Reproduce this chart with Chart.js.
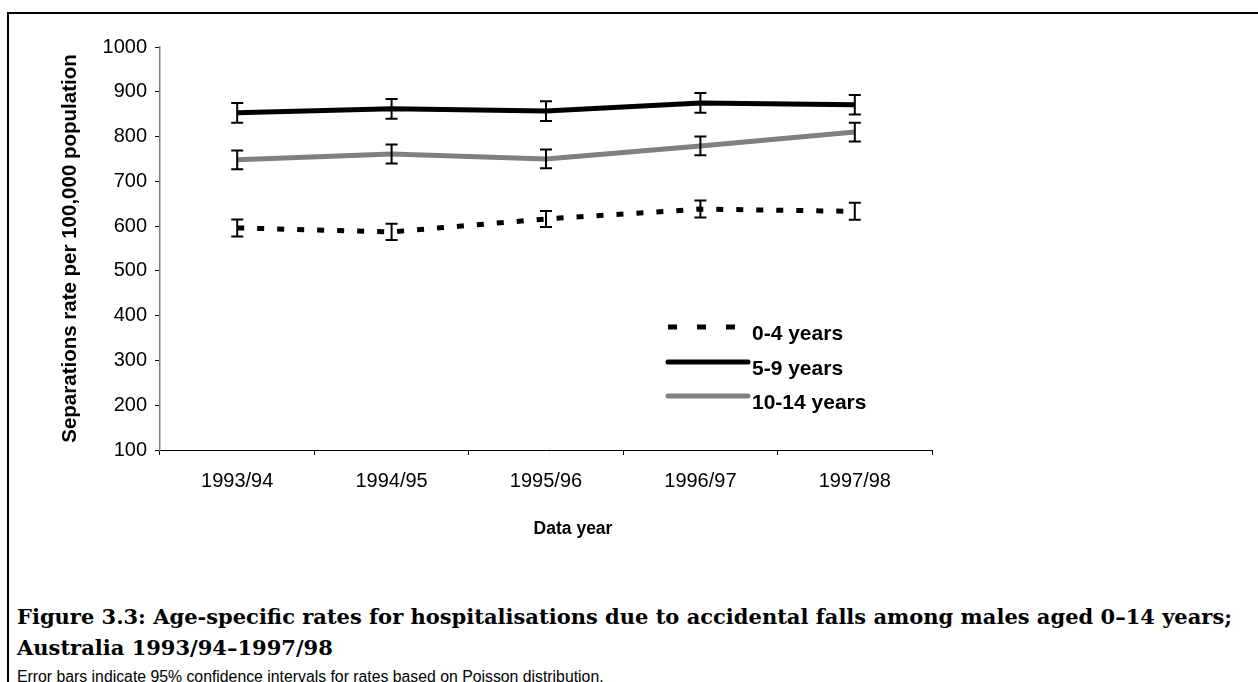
<!DOCTYPE html>
<html>
<head>
<meta charset="utf-8">
<script src="https://cdn.jsdelivr.net/npm/chart.js@4/dist/chart.umd.min.js"></script>
<style>
  html, body { margin: 0; padding: 0; background: #fff; overflow: hidden; }
  #page { position: relative; width: 1258px; height: 682px; }
  #frame { position: absolute; left: 7px; top: 12px; right: -4px; bottom: -4px; border-top: 2px solid #000; border-left: 2px solid #000; }
  #wrap { position: absolute; left: 0; top: 0; width: 1258px; height: 560px; }
  #caption { position: absolute; left: 17px; top: 601px; font-family: "DejaVu Serif", serif; font-weight: bold; font-size: 21px; line-height: 31px; color: #000; white-space: nowrap; }
  #note { position: absolute; left: 17px; top: 668px; font-family: "Liberation Sans", Arial, sans-serif; font-size: 15.8px; color: #000; white-space: nowrap; }
</style>
</head>
<body>
<div id="page">
  <div id="frame"></div>
  <div id="wrap"><canvas id="chart" width="1258" height="560"></canvas></div>
  <div id="caption">Figure 3.3: Age-specific rates for hospitalisations due to accidental falls among males aged 0–14 years;<br>Australia 1993/94–1997/98</div>
  <div id="note">Error bars indicate 95% confidence intervals for rates based on Poisson distribution.</div>
</div>
<script>
const years = ['1993/94', '1994/95', '1995/96', '1996/97', '1997/98'];
const seriesNames = ['0-4 years', '5-9 years', '10-14 years'];

const rates0to4 = [596, 587, 616, 638, 633];
const rates5to9 = [853, 862, 857, 875, 871];
const rates10to14 = [748, 761, 750, 779, 810];

// half-width of the 95% CI
const err0to4 = [19, 18, 18, 19, 19];
const err5to9 = [22, 22, 22, 22, 22];
const err10to14 = [21, 21, 21, 21, 21];

const yTicks = [100, 200, 300, 400, 500, 600, 700, 800, 900, 1000];
const xTitle = 'Data year';

const font = 'Liberation Sans, Arial, sans-serif';

// error bars drawn on top of the lines
const errorBars = {
    id: 'errorBars',
    afterDatasetsDraw(chart) {
        const ctx = chart.ctx;
        const y = chart.scales.y;
        ctx.save();
        ctx.strokeStyle = '#000';
        ctx.lineWidth = 2;
        chart.data.datasets.forEach((ds, i) => {
            const meta = chart.getDatasetMeta(i);
            meta.data.forEach((pt, j) => {
                const top = y.getPixelForValue(ds.data[j] + ds.err[j]);
                const bot = y.getPixelForValue(ds.data[j] - ds.err[j]);
                const x = pt.x;
                ctx.beginPath();
                ctx.moveTo(x, top); ctx.lineTo(x, bot);
                ctx.moveTo(x - 6, top); ctx.lineTo(x + 6, top);
                ctx.moveTo(x - 6, bot); ctx.lineTo(x + 6, bot);
                ctx.stroke();
            });
        });
        ctx.restore();
    }
};

// legend inside the plot + the x title, which sits a bit right of centre
const innerLegend = {
    id: 'innerLegend',
    afterDraw(chart) {
        const ctx = chart.ctx;
        const area = chart.chartArea;
        const x0 = area.left + 508;
        const rows = [327, 362, 396];
        ctx.save();
        chart.data.datasets.forEach((ds, i) => {
            ctx.beginPath();
            ctx.strokeStyle = ds.borderColor;
            ctx.lineWidth = 5;
            ctx.lineCap = i === 0 ? 'butt' : 'round';
            ctx.setLineDash(i === 0 ? [9, 20] : []);
            ctx.moveTo(x0, rows[i]);
            ctx.lineTo(x0 + 80, rows[i]);
            ctx.stroke();
            ctx.setLineDash([]);
            ctx.fillStyle = '#000';
            ctx.font = 'bold 21px ' + font;
            ctx.textBaseline = 'middle';
            ctx.textAlign = 'left';
            ctx.fillText(ds.label, x0 + 84, rows[i] + 7);
        });
        ctx.font = 'bold 17.5px ' + font;
        ctx.textAlign = 'center';
        ctx.textBaseline = 'middle';
        ctx.fillText(xTitle, (area.left + area.right) / 2 + 27, 529);
        ctx.restore();
    }
};

new Chart(document.getElementById('chart'), {
    type: 'line',
    data: {
        labels: years,
        datasets: [
            { label: seriesNames[0], data: rates0to4, err: err0to4, borderColor: '#000', borderWidth: 5, borderDash: [7, 13], pointRadius: 0, tension: 0 },
            { label: seriesNames[1], data: rates5to9, err: err5to9, borderColor: '#000', borderWidth: 5, pointRadius: 0, tension: 0 },
            { label: seriesNames[2], data: rates10to14, err: err10to14, borderColor: '#808080', borderWidth: 5, pointRadius: 0, tension: 0 }
        ]
    },
    options: {
        responsive: false,
        animation: false,
        layout: { padding: { left: 50, right: 326, top: 47, bottom: 0 } },
        plugins: { legend: { display: false }, tooltip: { enabled: false } },
        scales: {
            x: {
                offset: true,
                grid: { offset: true, drawOnChartArea: false, drawTicks: true, tickLength: 5, color: '#000' },
                border: { color: '#000', width: 1 },
                ticks: { color: '#000', font: { family: font, size: 20 }, padding: 14, maxRotation: 0 },
                title: { display: false },
                afterFit(scale) { scale.height = 110; }
            },
            y: {
                min: 100,
                max: 1000,
                afterBuildTicks(scale) { scale.ticks = yTicks.map(v => ({ value: v })); },
                grid: { drawOnChartArea: false, drawTicks: true, tickLength: 5, color: '#000' },
                border: { color: '#808080', width: 1.5 },
                ticks: { color: '#000', font: { family: font, size: 20 }, padding: 8, callback: v => String(v) },
                title: { display: true, text: 'Separations rate per 100,000 population', color: '#000', font: { family: font, size: 20.5, weight: 'bold' }, padding: { top: 8, bottom: 0 } },
                afterFit(scale) { scale.width = 110; }
            }
        }
    },
    plugins: [errorBars, innerLegend]
});
</script>
</body>
</html>
